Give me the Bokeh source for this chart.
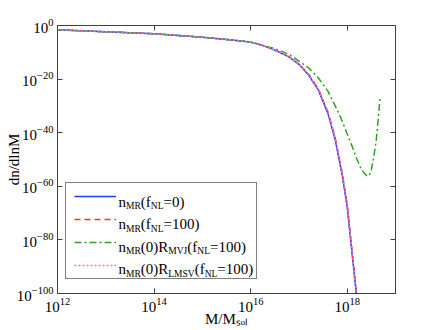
import math
from bokeh.plotting import figure
from bokeh.models import (Range1d, FixedTicker, LogAxis, Legend, LegendItem, Label)
from bokeh.embed import file_html
from bokeh.resources import INLINE

# ---------------- data (log10 values) ----------------
log_mass = [12.0, 12.5, 13.0, 13.5, 14.0, 14.5, 15.0, 15.5, 15.75, 16.0, 16.15,
            16.3, 16.45, 16.6, 16.8, 17.0, 17.2, 17.4, 17.6, 17.75, 17.9, 18.0,
            18.1, 18.2, 18.25]
log_n_mr_fnl0 = [-1.6, -2.0, -2.35, -2.7, -3.1, -3.7, -4.4, -5.2, -5.65, -6.2,
                 -6.9, -7.8, -8.8, -10.0, -11.8, -14.5, -18.5, -24.0, -32.8,
                 -42.5, -56.2, -67.8, -85.0, -102.0, -113.0]
log_n_mr_fnl100 = [-1.6, -2.0, -2.35, -2.7, -3.1, -3.7, -4.4, -5.2, -5.65, -6.2,
                   -6.9, -7.8, -8.75, -9.9, -11.7, -14.3, -18.2, -23.6, -32.2,
                   -41.8, -55.3, -66.8, -84.0, -101.0, -112.0]
log_n_lmsv = [-1.6, -2.0, -2.35, -2.7, -3.1, -3.7, -4.4, -5.2, -5.65, -6.2,
              -6.9, -7.8, -8.75, -9.9, -11.7, -14.4, -18.3, -23.7, -32.3,
              -41.9, -55.5, -67.0, -84.2, -101.2, -112.2]
log_mass_mvj = [12.0, 12.5, 13.0, 13.5, 14.0, 14.5, 15.0, 15.5, 15.75, 16.0,
                16.15, 16.3, 16.45, 16.6, 16.8, 17.0, 17.2, 17.4, 17.6, 17.8,
                17.9, 18.0, 18.1, 18.2, 18.3, 18.4, 18.45, 18.5, 18.55, 18.6,
                18.65, 18.68]
log_n_mvj = [-1.6, -2.0, -2.35, -2.7, -3.1, -3.7, -4.4, -5.2, -5.65, -6.2,
             -6.85, -7.7, -8.4, -9.3, -10.8, -13.3, -15.8, -19.5, -24.5, -31.8,
             -35.8, -40.5, -45.0, -49.8, -54.0, -56.0, -56.2, -53.8, -49.0,
             -43.0, -33.5, -26.5]

x_tick_exponents = [12, 14, 16, 18]
y_tick_exponents = [-100, -80, -60, -40, -20, 0]

# legend texts: (piece, is_subscript)
legend_rows = [
    [("n", 0), ("MR", 1), ("(f", 0), ("NL", 1), ("=0)", 0)],
    [("n", 0), ("MR", 1), ("(f", 0), ("NL", 1), ("=100)", 0)],
    [("n", 0), ("MR", 1), ("(0)R", 0), ("MVJ", 1), ("(f", 0), ("NL", 1), ("=100)", 0)],
    [("n", 0), ("MR", 1), ("(0)R", 0), ("LMSV", 1), ("(f", 0), ("NL", 1), ("=100)", 0)],
]
x_label_text = "M/M\u209b\u2092\u2097"   # M/M_sol
y_label_text = "dn/dlnM"

# ---------------- style ----------------
FONT = "Liberation Serif"
MAIN = 15.0
SUB = 9.5
AXC = "#404040"
W = {'n': 500, 'M': 889, 'R': 667, '(': 333, ')': 333, 'f': 333, 'N': 722,
     'L': 611, '=': 564, '0': 500, '1': 500, 'J': 389, 'V': 722, 'S': 556,
     's': 389, 'o': 500, 'l': 278, '/': 278, 'd': 500}


def text_width(t, size):
    return sum(W.get(c, 500) for c in t) / 1000.0 * size


FRAME_L, FRAME_T, FRAME_R, FRAME_B = 57, 25, 395, 293
WIDTH, HEIGHT = 436, 330

p = figure(width=WIDTH, height=HEIGHT, x_axis_type="log", y_axis_type="log",
           x_range=Range1d(1e12, 1e19), y_range=Range1d(1e-100, 1.0),
           output_backend="svg", toolbar_location=None,
           min_border_left=FRAME_L, min_border_right=WIDTH - FRAME_R,
           min_border_top=FRAME_T, min_border_bottom=HEIGHT - FRAME_B)
p.grid.visible = False
p.outline_line_color = AXC
p.background_fill_color = "white"
p.border_fill_color = "white"

x_ticks = [10.0 ** e for e in x_tick_exponents]
y_ticks = [10.0 ** e for e in y_tick_exponents]
p.xaxis.ticker = FixedTicker(ticks=x_ticks)
p.yaxis.ticker = FixedTicker(ticks=y_ticks)
for ax in (p.xaxis[0], p.yaxis[0]):
    ax.major_tick_in = 5
    ax.major_tick_out = 0
    ax.minor_tick_in = 0
    ax.minor_tick_out = 0
    ax.axis_line_color = AXC
    ax.major_tick_line_color = AXC
    ax.major_label_text_font = FONT
    ax.major_label_text_font_size = "15px"
    ax.major_label_text_color = "black"
    ax.major_label_standoff = 4
    ax.axis_label_text_font = FONT
    ax.axis_label_text_font_size = "15px"
    ax.axis_label_text_font_style = "normal"
    ax.axis_label_text_color = "black"

p.yaxis.axis_label = y_label_text
p.yaxis.axis_label_standoff = -8
p.xaxis.axis_label = x_label_text
p.xaxis.axis_label_standoff = -4

top = LogAxis(ticker=FixedTicker(ticks=x_ticks), major_label_text_font_size="1px",
              major_label_text_alpha=0.0,
              major_tick_in=5, major_tick_out=0, minor_tick_in=0, minor_tick_out=0,
              axis_line_color=None, major_tick_line_color=AXC, major_label_standoff=0)
right = LogAxis(ticker=FixedTicker(ticks=y_ticks), major_label_text_font_size="1px",
                major_label_text_alpha=0.0,
                major_tick_in=5, major_tick_out=0, minor_tick_in=0, minor_tick_out=0,
                axis_line_color=None, major_tick_line_color=AXC, major_label_standoff=0)
p.add_layout(top, "above")
p.add_layout(right, "right")


def pw(vals):
    return [10.0 ** v for v in vals]


m = pw(log_mass)
r1 = p.line(m, pw(log_n_mr_fnl0), line_color="#1f3cff", line_width=1.5)
r2 = p.line(m, pw(log_n_mr_fnl100), line_color="#ff3030", line_width=1.5,
            line_dash="6 4")
r3 = p.line(pw(log_mass_mvj), pw(log_n_mvj), line_color="#2ca31f", line_width=1.5,
            line_dash="7 3 2 3")
r4 = p.line(m, pw(log_n_lmsv), line_color="#c77dff", line_width=1.5,
            line_dash="2 2")

legend = Legend(items=[LegendItem(label=" ", renderers=[r]) for r in (r1, r2, r3, r4)],
                location=(8, 14), padding=8, glyph_width=42, glyph_height=10,
                label_height=10, label_width=129, label_standoff=3, spacing=13,
                label_text_font_size="8px", border_line_color="black",
                border_line_width=1, background_fill_color="white",
                background_fill_alpha=0.0, margin=0)
p.add_layout(legend)


# ---- legend texts with subscripts (screen px relative to the frame's bottom-left) ----
def add_pieces(pieces, x0, base_y, sub_drop, main_size, sub_size):
    x = x0
    for t, is_sub in pieces:
        size = sub_size if is_sub else main_size
        y = base_y + (sub_drop if is_sub else 0.0)
        p.add_layout(Label(x=x - FRAME_L, y=FRAME_B - y, x_units="screen",
                           y_units="screen", text=t, text_font=FONT,
                           text_font_size=f"{size}px", text_color="black",
                           text_baseline="alphabetic", text_align="left"))
        x += text_width(t, size)


row_centers = [198.0, 220.6, 243.2, 265.8]
for pieces, cy in zip(legend_rows, row_centers):
    add_pieces(pieces, 118.0, cy + 3.0, 4.5, MAIN, SUB)

open("out.html", "w").write(file_html(p, INLINE))
